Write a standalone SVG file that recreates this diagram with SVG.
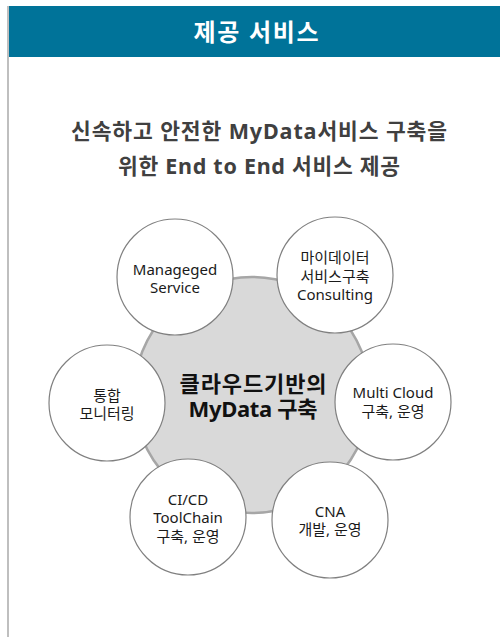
<svg xmlns="http://www.w3.org/2000/svg" width="500" height="637" viewBox="0 0 500 637">
<style>
.t{font-family:"Noto Sans","Noto Sans CJK KR",sans-serif;text-anchor:middle}
.sm{font-size:15px;fill:#1a1a1a}
.node{fill:#ffffff;stroke:#808080;stroke-width:1.2}
</style>
<rect x="0" y="0" width="500" height="637" fill="#ffffff"/>
<rect x="7" y="6" width="2" height="631" fill="#bfbfbf"/>
<rect x="9" y="6" width="491" height="51" fill="#007399"/>
<text class="t" x="256" y="41" font-size="24" font-weight="bold" fill="#ffffff" textLength="125" lengthAdjust="spacing">제공 서비스</text>
<text class="t" x="259" y="139" font-size="21.5" font-weight="bold" fill="#404040" textLength="376" lengthAdjust="spacing">신속하고 안전한 MyData서비스 구축을</text>
<text class="t" x="259" y="174" font-size="21.5" font-weight="bold" fill="#404040" textLength="282" lengthAdjust="spacing">위한 End to End 서비스 제공</text>
<g id="center">
<circle cx="252" cy="395" r="118" fill="#d9d9d9" stroke="#a6a6a6" stroke-width="2.5"/>
<text class="t" x="253" y="392" font-size="22" font-weight="bold" fill="#111" textLength="147" lengthAdjust="spacing">클라우드기반의</text>
<text class="t" x="253" y="417" font-size="22" font-weight="bold" fill="#111" textLength="129" lengthAdjust="spacing">MyData 구축</text>
</g>
<g id="connectors"></g>
<g id="n-managed">
<circle class="node" cx="175" cy="277" r="58"/>
<text class="t sm" x="175" y="275">Manageged</text>
<text class="t sm" x="175" y="293">Service</text>
</g>
<g id="n-consult">
<circle class="node" cx="335" cy="275" r="58"/>
<text class="t sm" x="335" y="263">마이데이터</text>
<text class="t sm" x="335" y="282">서비스구축</text>
<text class="t sm" x="335" y="300">Consulting</text>
</g>
<g id="n-monitor">
<circle class="node" cx="107" cy="403" r="58"/>
<text class="t sm" x="107" y="401">통합</text>
<text class="t sm" x="107" y="419">모니터링</text>
</g>
<g id="n-multi">
<circle class="node" cx="393" cy="402" r="58"/>
<text class="t sm" x="393" y="398">Multi Cloud</text>
<text class="t sm" x="393" y="417">구축, 운영</text>
</g>
<g id="n-cicd">
<circle class="node" cx="188" cy="517" r="58"/>
<text class="t sm" x="188" y="505">CI/CD</text>
<text class="t sm" x="188" y="523">ToolChain</text>
<text class="t sm" x="188" y="542">구축, 운영</text>
</g>
<g id="n-cna">
<circle class="node" cx="330" cy="520" r="58"/>
<text class="t sm" x="330" y="517">CNA</text>
<text class="t sm" x="330" y="535">개발, 운영</text>
</g>
</svg>
